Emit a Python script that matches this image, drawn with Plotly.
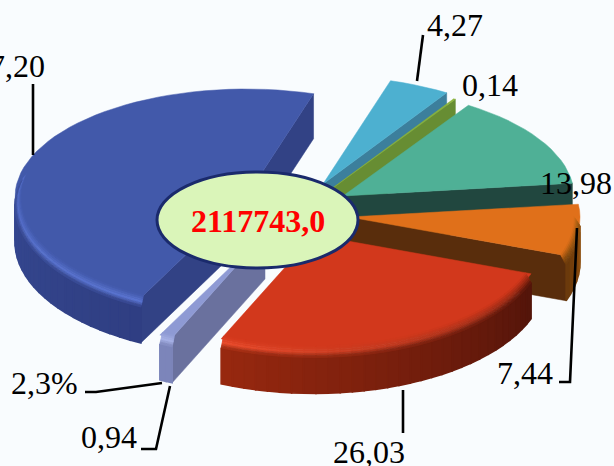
import math
import plotly.graph_objects as go

# ---- data ----
slice_names = ["a", "b", "c", "d", "e", "f", "g"]
slice_values = [47.20, 0.94, 26.03, 7.44, 13.98, 0.14, 4.27]
slice_labels = ["47,20", "0,94", "26,03", "7,44", "13,98", "0,14", "4,27"]
center_label = "2117743,0"
extra_label = "2,3%"

# ---- projection / style (not data) ----
START_DEG = 73.0
CX, CY = 300, 212
RX, RY = 231, 108
DEPTH = 45
RIM = 9
OFFSETS = {"a": (-54, -15), "b": (-35, 22), "c": (14, 23), "d": (49, 5),
           "e": (43, -16), "f": (30, -22), "g": (23, -28)}
STYLE = {
    "a": dict(top="#4259AA", side="#324285", rim=["#4A63B8", "#5872CF"], wall=["#3F56A6", "#2F3E82"]),
    "b": dict(top="#8E9AD4", side="#6A719E", rim=["#A5B0E4", "#A5B0E4"], wall=["#7C85BA", "#7C85BA"]),
    "c": dict(top="#D2381C", side="#6A1A0A", rim=["#E8492A", "#8A2410"], wall=["#97280F", "#52140A"]),
    "d": dict(top="#E0701A", side="#592D0C", rim=["#8A4C0E", "#B86A16"], wall=["#6B3A0C", "#A25A10"]),
    "e": dict(top="#4FB096", side="#21473F", rim=["#4FB096", "#4FB096"], wall=["#21473F", "#21473F"]),
    "f": dict(top="#8AB33A", side="#678D33", rim=["#8AB33A", "#8AB33A"], wall=["#678D33", "#678D33"]),
    "g": dict(top="#4DB0D0", side="#3C7F9C", rim=["#4DB0D0", "#4DB0D0"], wall=["#3C7F9C", "#3C7F9C"]),
}
DRAW_ORDER = ["g", "f", "e", "a", "d", "c", "b"]

LEADERS = [
    [(33, 84), (33, 155)],
    [(423, 35), (417, 81)],
    [(577, 228), (570, 382), (559, 382)],
    [(403, 390), (403, 433)],
    [(170, 386), (156, 449), (141, 449)],
    [(162, 383), (96, 392), (85, 392)],
]
LABEL_POS = {"47,20": (47, 66), "4,27": (485, 25), "0,14": (520, 85), "13,98": (614, 183),
             "7,44": (555, 373), "26,03": (407, 452), "0,94": (139, 437), "2,3%": (80, 383)}


def mix(c1, c2, t):
    a = [int(c1[i:i + 2], 16) for i in (1, 3, 5)]
    b = [int(c2[i:i + 2], 16) for i in (1, 3, 5)]
    return "#%02x%02x%02x" % tuple(round(a[i] + (b[i] - a[i]) * t) for i in range(3))


fig = go.Figure()


def poly(pts, color, lw=1.2):
    fig.add_trace(go.Scatter(
        x=[p[0] for p in pts] + [pts[0][0]], y=[p[1] for p in pts] + [pts[0][1]],
        mode="lines", fill="toself", fillcolor=color,
        line=dict(color=color, width=lw), hoverinfo="skip", showlegend=False))


total = sum(slice_values)
spans = {}
ang = START_DEG
for n, v in zip(slice_names, slice_values):
    spans[n] = (ang, ang + v / total * 360)
    ang = spans[n][1]


def draw_slice(n):
    t1, t2 = spans[n]
    ox, oy = OFFSETS[n]
    ax, ay = CX + ox, CY + oy
    st = STYLE[n]

    def P(deg, r=1.0, z=0.0):
        a = math.radians(deg)
        ry = RY * (1.05 if math.sin(a) < 0 else 1.0)
        return (ax + RX * r * math.cos(a), ay - ry * r * math.sin(a) + z)

    for deg, vis in ((t1, math.cos(math.radians(t1)) > 0), (t2, math.cos(math.radians(t2)) < 0)):
        if vis:
            poly([(ax, ay), P(deg), P(deg, 1, DEPTH), (ax, ay + DEPTH)], st["side"], 0.5)

    steps = max(2, int((t2 - t1) / 3))
    degs = [t1 + (t2 - t1) * i / steps for i in range(steps + 1)]
    front = []
    for i in range(steps):
        mid = math.radians((degs[i] + degs[i + 1]) / 2)
        if not (math.sin(mid) >= 0.02 and math.cos(mid) > -0.98):
            front.append(i)

    for i in front:
        a, b = degs[i], degs[i + 1]
        frac = 1 - i / steps
        poly([P(a, 1, RIM), P(b, 1, RIM), P(b, 1, DEPTH), P(a, 1, DEPTH)],
             mix(st["wall"][0], st["wall"][1], 1 - frac), 1.6)

    poly([(ax, ay)] + [P(d) for d in degs], st["top"], 0.5)

    bands = 6
    for k in range(bands):
        r0, r1 = 0.975 + 0.025 * k / bands, 0.975 + 0.025 * (k + 1) / bands
        z0, z1 = RIM * k / bands, RIM * (k + 1) / bands
        u = (k + 0.5) / bands
        for i in front:
            a, b = degs[i], degs[i + 1]
            frac = 1 - i / steps
            rim = mix(st["rim"][0], st["rim"][1], 1 - frac)
            wall = mix(st["wall"][0], st["wall"][1], 1 - frac)
            col = mix(st["top"], rim, u / 0.6) if u < 0.6 else mix(rim, wall, (u - 0.6) / 0.4)
            poly([P(a, r0, z0), P(b, r0, z0), P(b, r1, z1), P(a, r1, z1)], col, 0.8)


for name in DRAW_ORDER:
    draw_slice(name)

for pts in LEADERS:
    fig.add_trace(go.Scatter(x=[p[0] for p in pts], y=[p[1] for p in pts], mode="lines",
                             line=dict(color="#000000", width=2.6), hoverinfo="skip", showlegend=False))

fig.add_shape(type="circle", xref="x", yref="y", x0=157, x1=358, y0=172, y1=268,
              fillcolor="#DAF5B9", line=dict(color="#1A2A6C", width=3), layer="above")

annots = []
for txt in slice_labels + [extra_label]:
    x, y = LABEL_POS[txt]
    annots.append(dict(x=x, y=y, text=txt, xref="x", yref="y", showarrow=False, xanchor="right",
                       yanchor="middle", font=dict(family="Liberation Serif", size=32, color="#000000")))
annots.append(dict(x=257.5, y=221, text="<b>%s</b>" % center_label, xref="x", yref="y", showarrow=False,
                   xanchor="center", yanchor="middle",
                   font=dict(family="Liberation Serif", size=32, color="#FF0000")))

fig.update_layout(
    width=614, height=466, margin=dict(l=0, r=0, t=0, b=0), autosize=False,
    paper_bgcolor="#F9FCFE", plot_bgcolor="rgba(0,0,0,0)", showlegend=False,
    xaxis=dict(range=[0, 614], visible=False, fixedrange=True),
    yaxis=dict(range=[466, 0], visible=False, fixedrange=True),
    annotations=annots,
)
fig.write_html("out.html", config={"displayModeBar": False},
               post_script="document.body.style.margin='0';document.body.style.overflow='hidden';")
